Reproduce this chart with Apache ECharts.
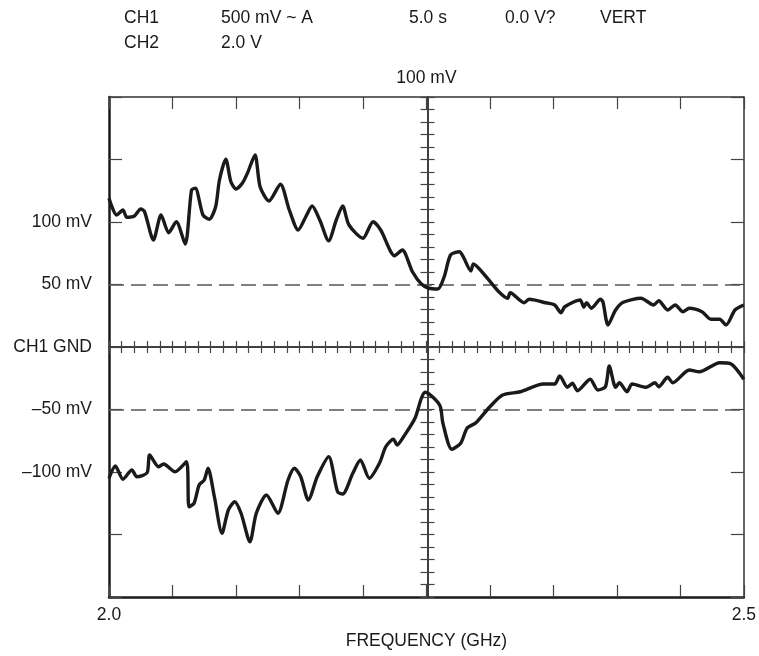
<!DOCTYPE html>
<html>
<head>
<meta charset="utf-8">
<script src="https://cdn.jsdelivr.net/npm/echarts@6/dist/echarts.min.js"></script>
<style>
  html, body { margin: 0; padding: 0; background: #fff; }
  #chart { width: 759px; height: 656px; }
</style>
</head>
<body>
<div id="chart"></div>
<script>
// trace 1 (upper) : frequency in GHz, level in mV
const ch1Freq = [2.000, 2.006, 2.011, 2.014, 2.020, 2.025, 2.028, 2.035, 2.041, 2.047, 2.053, 2.060, 2.065, 2.068, 2.074, 2.079, 2.084, 2.087, 2.092, 2.096, 2.100, 2.105, 2.109, 2.115, 2.119, 2.126, 2.135, 2.142, 2.149, 2.155, 2.160, 2.166, 2.173, 2.179, 2.184, 2.189, 2.200, 2.208, 2.214, 2.225, 2.231, 2.239, 2.246, 2.252, 2.259, 2.264, 2.269, 2.276, 2.279, 2.285, 2.287, 2.297, 2.307, 2.314, 2.316, 2.327, 2.331, 2.344, 2.351, 2.356, 2.359, 2.371, 2.374, 2.376, 2.380, 2.387, 2.389, 2.393, 2.399, 2.405, 2.419, 2.429, 2.433, 2.440, 2.446, 2.452, 2.457, 2.467, 2.474, 2.481, 2.486, 2.493, 2.500]
const ch1mV = [119, 105.6, 109.6, 103.8, 104.8, 110.4, 108.2, 85.6, 105.6, 91.4, 100.2, 82.4, 125.6, 127, 105.6, 102.2, 112.2, 133.6, 150.2, 132.2, 126.4, 131, 139, 153.6, 128.2, 116.8, 130.2, 109.6, 93.6, 104.2, 112.8, 101.6, 85, 101.6, 112.8, 97.6, 87, 100.2, 93.6, 73, 77.6, 60.2, 50.4, 47, 46.4, 56.2, 73.6, 76.2, 72.2, 60.8, 66.4, 56.2, 44.2, 39, 43.4, 35.4, 38.2, 35.4, 33.6, 27.4, 32.2, 37.6, 31.8, 35.4, 31, 38.2, 36.2, 17.6, 29.6, 35.8, 39, 33.6, 37, 29.6, 33.6, 28.2, 31, 28.2, 22.2, 22.2, 17.6, 29.6, 33.6]

// trace 2 (lower)
const ch2Freq = [2.000, 2.005, 2.011, 2.018, 2.022, 2.030, 2.032, 2.039, 2.043, 2.052, 2.061, 2.063, 2.067, 2.071, 2.075, 2.078, 2.083, 2.089, 2.094, 2.099, 2.104, 2.111, 2.116, 2.124, 2.133, 2.141, 2.146, 2.151, 2.157, 2.164, 2.173, 2.180, 2.184, 2.192, 2.198, 2.205, 2.213, 2.218, 2.224, 2.227, 2.232, 2.241, 2.246, 2.249, 2.256, 2.261, 2.263, 2.270, 2.277, 2.282, 2.289, 2.300, 2.310, 2.324, 2.342, 2.351, 2.355, 2.361, 2.365, 2.369, 2.379, 2.385, 2.391, 2.394, 2.399, 2.402, 2.408, 2.412, 2.423, 2.430, 2.433, 2.440, 2.444, 2.457, 2.465, 2.481, 2.490, 2.500]
const ch2mV = [-105, -95.2, -105.8, -98.4, -103.8, -100.6, -86.4, -95.8, -93.6, -99.8, -91.8, -127.8, -125, -110.4, -106.4, -97, -119.8, -149, -130.4, -123.8, -133, -155.8, -133, -118.4, -133, -106.4, -97, -103.8, -122.4, -103.8, -87.8, -115.8, -117.6, -101, -90.4, -105, -93, -79.8, -73.8, -78.4, -71.8, -57, -41, -36.2, -41, -47.8, -61, -81.8, -77, -65, -60.6, -47.8, -38.4, -35.8, -29.6, -29.6, -23.2, -32.2, -29, -35, -25.8, -34.4, -31.8, -15.2, -32.2, -28.6, -35.8, -29.6, -32.2, -28.6, -31.8, -24.2, -28.6, -18.4, -19.8, -12.6, -13.6, -25.8]

// tick labels
const xTickValues = [2.0, 2.5]
const xTickTexts = ['2.0', '2.5']
const yTickValues = [100, 50, 0, -50, -100]
const yTickTexts = ['100 mV', '50 mV', 'CH1 GND', '–50 mV', '–100 mV']
const refLevels = [50, -50]

// header lines
const headerRow1 = ['CH1', '500 mV ~ A', '5.0 s', '0.0 V?', 'VERT']
const headerRow2 = ['CH2', '2.0 V']

const FONT = "'Liberation Sans', Arial, sans-serif"
const FS = 17.5
const TXT = { color: '#1a1a1a', fontSize: FS, fontFamily: FONT }
const tickStyle = { color: '#444', width: 1.2 }
const gridBox = { left: 109, top: 97, width: 637, height: 500 }

const pairs = (xs, ys) => xs.map((x, i) => [x, ys[i]])

function xLabel(v) {
  const i = xTickValues.findIndex(t => Math.abs(t - v) < 1e-6)
  return i < 0 ? '' : xTickTexts[i]
}
function yLabel(v) {
  const i = yTickValues.findIndex(t => Math.abs(t - v) < 1e-6)
  return i < 0 ? '' : yTickTexts[i]
}

const headerX1 = [124, 221, 409, 505, 600]
const headerX2 = [124, 221]
const graphic = []
headerRow1.forEach((t, i) => graphic.push({
  type: 'text', left: headerX1[i], top: 9,
  style: { text: t, fill: TXT.color, fontSize: FS, fontFamily: FONT }
}))
headerRow2.forEach((t, i) => graphic.push({
  type: 'text', left: headerX2[i], top: 34,
  style: { text: t, fill: TXT.color, fontSize: FS, fontFamily: FONT }
}))

const chart = echarts.init(document.getElementById('chart'), null, { renderer: 'canvas' })

const option = {
  animation: false,
  backgroundColor: '#fff',
  graphic: graphic,
  grid: [
    Object.assign({}, gridBox),
    Object.assign({}, gridBox)
  ],
  xAxis: [
    { // bottom frame
      type: 'value', gridIndex: 0, position: 'bottom', min: 2, max: 2.5, interval: 0.05,
      name: 'FREQUENCY (GHz)', nameLocation: 'middle', nameGap: 35,
      nameTextStyle: TXT,
      axisLine: { onZero: false, lineStyle: { color: '#1a1a1a', width: 2.5 } },
      axisTick: { inside: true, length: 12, lineStyle: tickStyle },
      axisLabel: { formatter: xLabel, margin: 9, showMinLabel: true, showMaxLabel: true, ...TXT },
      splitLine: { show: false }
    },
    { // top frame
      type: 'value', gridIndex: 0, position: 'top', min: 2, max: 2.5, interval: 0.05,
      name: '100 mV', nameLocation: 'middle', nameGap: 10,
      nameTextStyle: TXT,
      axisLine: { onZero: false, lineStyle: { color: '#333', width: 1.5 } },
      axisTick: { inside: true, length: 12, lineStyle: tickStyle },
      axisLabel: { show: false },
      splitLine: { show: false }
    },
    { // horizontal centre line, ticks below
      type: 'value', gridIndex: 0, position: 'bottom', min: 2, max: 2.5, interval: 0.01,
      axisLine: { onZero: true, onZeroAxisIndex: 0, lineStyle: { color: '#333', width: 1.5 } },
      axisTick: { length: 6, lineStyle: tickStyle },
      axisLabel: { show: false },
      splitLine: { show: false }
    },
    { // horizontal centre line, ticks above
      type: 'value', gridIndex: 0, position: 'top', min: 2, max: 2.5, interval: 0.01,
      axisLine: { onZero: true, onZeroAxisIndex: 0, lineStyle: { color: '#333', width: 1.5 } },
      axisTick: { length: 6, lineStyle: tickStyle },
      axisLabel: { show: false },
      splitLine: { show: false }
    },
    { // helper axis so the vertical centre line sits on 0
      type: 'value', gridIndex: 1, min: -0.25, max: 0.25, show: false
    }
  ],
  yAxis: [
    { // left frame
      type: 'value', gridIndex: 0, position: 'left', min: -200, max: 200, interval: 50,
      axisLine: { onZero: false, lineStyle: { color: '#1a1a1a', width: 2.5 } },
      axisTick: { inside: true, length: 13, lineStyle: tickStyle },
      axisLabel: { formatter: yLabel, margin: 17, ...TXT },
      splitLine: { show: false }
    },
    { // right frame
      type: 'value', gridIndex: 0, position: 'right', min: -200, max: 200, interval: 50,
      axisLine: { onZero: false, lineStyle: { color: '#333', width: 1.5 } },
      axisTick: { inside: true, length: 13, lineStyle: tickStyle },
      axisLabel: { show: false },
      splitLine: { show: false }
    },
    { // vertical centre line, ticks to the left
      type: 'value', gridIndex: 1, position: 'left', min: -200, max: 200, interval: 10,
      axisLine: { onZero: true, onZeroAxisIndex: 4, lineStyle: { color: '#333', width: 1.5 } },
      axisTick: { length: 7, lineStyle: tickStyle },
      axisLabel: { show: false },
      splitLine: { show: false }
    },
    { // vertical centre line, ticks to the right
      type: 'value', gridIndex: 1, position: 'right', min: -200, max: 200, interval: 10,
      axisLine: { onZero: true, onZeroAxisIndex: 4, lineStyle: { color: '#333', width: 1.5 } },
      axisTick: { length: 7, lineStyle: tickStyle },
      axisLabel: { show: false },
      splitLine: { show: false }
    }
  ],
  series: [
    {
      name: 'CH1', type: 'line', xAxisIndex: 0, yAxisIndex: 0,
      data: pairs(ch1Freq, ch1mV),
      smooth: 0.25, showSymbol: false, symbol: 'none',
      lineStyle: { color: '#1a1a1a', width: 3.4 },
      z: 5,
      markLine: {
        silent: true, symbol: 'none', label: { show: false },
        lineStyle: { color: '#555', width: 1.5, type: [15, 7] },
        data: refLevels.map(v => ({ yAxis: v }))
      }
    },
    {
      name: 'CH2', type: 'line', xAxisIndex: 0, yAxisIndex: 0,
      data: pairs(ch2Freq, ch2mV),
      smooth: 0.25, showSymbol: false, symbol: 'none',
      lineStyle: { color: '#1a1a1a', width: 3.4 },
      z: 5
    }
  ]
}

chart.setOption(option)
</script>
</body>
</html>
